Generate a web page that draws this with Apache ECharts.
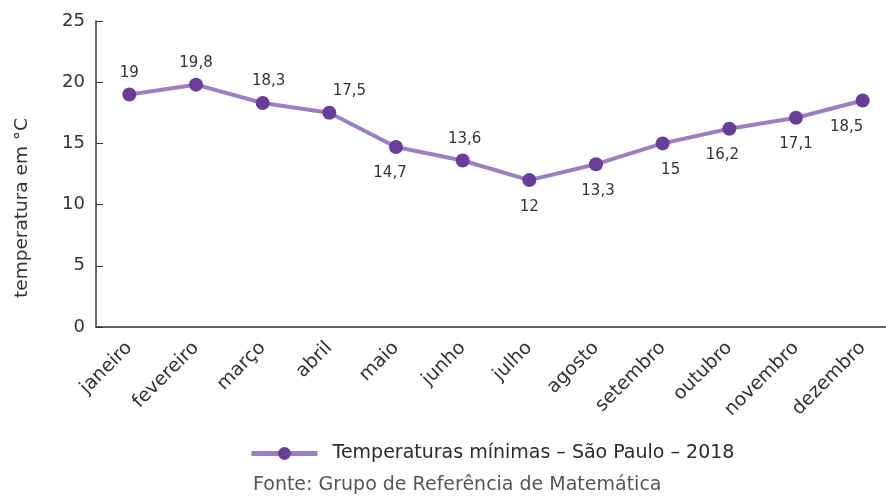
<!DOCTYPE html>
<html>
<head>
<meta charset="utf-8">
<script src="https://cdn.jsdelivr.net/npm/echarts@6/dist/echarts.min.js"></script>
<style>
  html, body { margin: 0; padding: 0; background: #fff; }
  #main { width: 886px; height: 497px; }
</style>
</head>
<body>
<div id="main"></div>
<script>
// chart data
var months = ['janeiro', 'fevereiro', 'março', 'abril', 'maio', 'junho',
  'julho', 'agosto', 'setembro', 'outubro', 'novembro', 'dezembro'];
var minTemps = [19, 19.8, 18.3, 17.5, 14.7, 13.6, 12, 13.3, 15, 16.2, 17.1, 18.5];
// where each value label sits
var labelPos = ['top', 'top', 'top', 'top', 'bottom', 'top',
  'bottom', 'bottom', 'bottom', 'bottom', 'bottom', 'bottom'];
var labelOffset = [[0, 0], [0, 0], [6, 0], [20, 0], [-6, 0], [2, 0],
  [0, 0], [2, 0], [8, 0], [-7, 0], [0, 0], [-16, 0]];

var font = 'DejaVu Sans';
var chart = echarts.init(document.getElementById('main'));

var option = {
  animation: false,
  textStyle: { fontFamily: font },
  grid: { left: 96, top: 21, width: 800, height: 306, outerBoundsMode: 'none', containLabel: false },
  legend: {
    left: 244,
    top: 439,
    itemWidth: 66,
    itemHeight: 16,
    lineStyle: { width: 5, color: '#9a7fc2' },
    textStyle: { fontFamily: font, fontSize: 19, color: '#2b2b2b', padding: [0, 0, 0, 10] },
    data: ['Temperaturas mínimas – São Paulo – 2018']
  },
  graphic: [{
    type: 'text',
    left: 253,
    top: 476,
    style: {
      text: 'Fonte: Grupo de Referência de Matemática',
      font: '19px "' + font + '"',
      fill: '#555'
    }
  }],
  xAxis: {
    type: 'category',
    data: months,
    boundaryGap: true,
    axisLine: { lineStyle: { color: '#333', width: 1.5 } },
    axisTick: { inside: true, length: 7, lineStyle: { color: '#333' } },
    axisLabel: {
      rotate: 45,
      fontSize: 19,
      color: '#333',
      margin: 18,
      interval: 0
    }
  },
  yAxis: {
    type: 'value',
    min: 0,
    max: 25,
    interval: 5,
    name: 'temperatura em °C',
    nameLocation: 'middle',
    nameGap: 64,
    nameTextStyle: { fontSize: 18.5, color: '#333', padding: [0, 68, 0, 0] },
    splitLine: { show: false },
    axisLine: { show: true, lineStyle: { color: '#333', width: 1.5 } },
    axisTick: { show: true, inside: true, length: 7, lineStyle: { color: '#333' } },
    axisLabel: { fontSize: 18, color: '#333', margin: 11 }
  },
  series: [{
    name: 'Temperaturas mínimas – São Paulo – 2018',
    type: 'line',
    data: minTemps.map(function (v, i) {
      return {
        value: v,
        label: {
          position: labelPos[i],
          offset: labelOffset[i],
          distance: labelPos[i] === 'top' ? 7 : 12
        }
      };
    }),
    symbol: 'circle',
    symbolSize: 14,
    lineStyle: { color: '#9a7fc2', width: 4 },
    itemStyle: { color: '#6a3d9a' },
    label: {
      show: true,
      fontSize: 15,
      color: '#333',
      formatter: function (p) { return String(p.value).replace('.', ','); }
    }
  }]
};

chart.setOption(option);
</script>
</body>
</html>
